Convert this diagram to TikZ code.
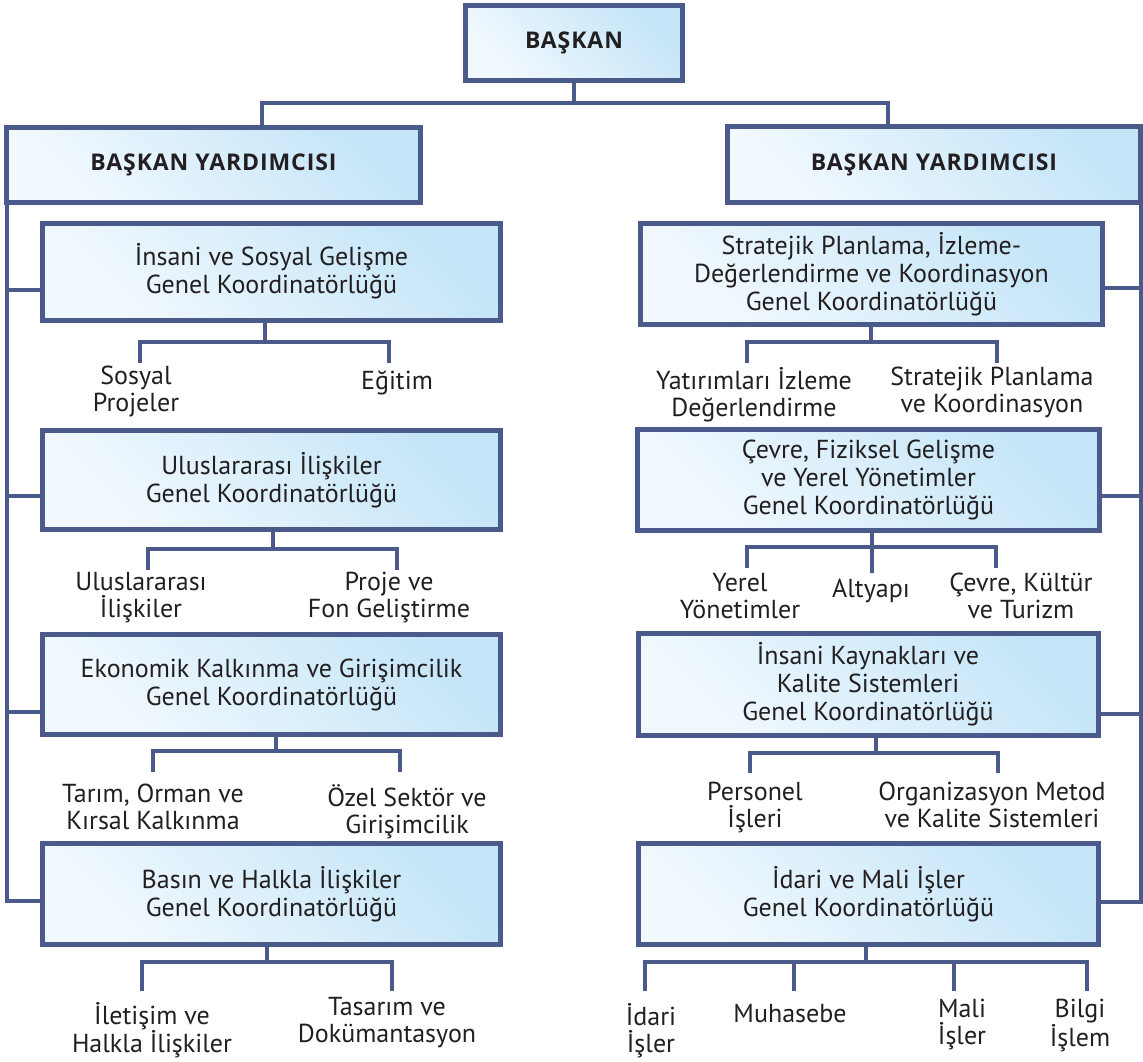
\documentclass[tikz,border=0pt]{standalone}
\usepackage{fontspec}
\setmainfont{PT Sans}
\newfontfamily\headfont[LetterSpace=4]{Open Sans}
\usetikzlibrary{positioning}
\definecolor{orgline}{RGB}{74,90,138}
\definecolor{boxlight}{RGB}{242,249,254}
\definecolor{boxdark}{RGB}{196,229,248}
\definecolor{orgtext}{RGB}{35,31,32}
\newcommand{\lineup}{\rule{0pt}{23pt}}
\tikzset{
  unit/.style={draw=orgline, line width=5pt, left color=boxlight, right color=boxdark,
    shading angle=135, align=center, text=orgtext, inner sep=0pt,
    font=\fontsize{26}{28}\selectfont},
  head/.style={unit, font=\headfont\fontsize{23}{26}\selectfont\bfseries},
  link/.style={draw=orgline, line width=4pt},
  sub/.style={align=center, text=orgtext, inner sep=0pt,
    font=\fontsize{26}{27}\selectfont, execute at begin node=\lineup},
}
\begin{document}
\begin{tikzpicture}[x=1pt,y=-1pt]
  \useasboundingbox (0,0) rectangle (1143,1061);

  % top level
  \node[head, minimum width=217pt, minimum height=75pt] (top) at (574,43) {BAŞKAN};
  \node[head, minimum width=414pt, minimum height=75pt] (vpl) at (213.5,165) {BAŞKAN YARDIMCISI};
  \node[head, minimum width=413pt, minimum height=76pt] (vpr) at (934,164.5) {BAŞKAN YARDIMCISI};

  \coordinate (tj) at (574,103);
  \draw[link] (top) -- (tj);
  \draw[link] (vpl.north -| 262,0) |- (tj) -| (vpr.north -| 888,0);

  % left units
  \node[unit, minimum width=458pt, minimum height=97pt] (l1) at (271.5,271.5)
    {İnsani ve Sosyal Gelişme\\Genel Koordinatörlüğü};
  \node[unit, minimum width=458pt, minimum height=99.5pt] (l2) at (271.5,480)
    {Uluslararası İlişkiler\\Genel Koordinatörlüğü};
  \node[unit, minimum width=458pt, minimum height=100pt] (l3) at (271.5,684.5)
    {Ekonomik Kalkınma ve Girişimcilik\\Genel Koordinatörlüğü};
  \node[unit, minimum width=458pt, minimum height=101pt] (l4) at (271.5,894)
    {Basın ve Halkla İlişkiler\\Genel Koordinatörlüğü};

  % right units
  \node[unit, minimum width=462pt, minimum height=101pt] (r1) at (871.5,274)
    {Stratejik Planlama, İzleme-\\Değerlendirme ve Koordinasyon\\Genel Koordinatörlüğü};
  \node[unit, minimum width=462pt, minimum height=101pt] (r2) at (868.5,480)
    {Çevre, Fiziksel Gelişme\\ve Yerel Yönetimler\\Genel Koordinatörlüğü};
  \node[unit, minimum width=460pt, minimum height=102pt] (r3) at (868,684)
    {İnsani Kaynakları ve\\Kalite Sistemleri\\Genel Koordinatörlüğü};
  \node[unit, minimum width=460pt, minimum height=101pt] (r4) at (868.5,894)
    {İdari ve Mali İşler\\Genel Koordinatörlüğü};

  % spines
  \coordinate (sl1) at (6.5,290);
  \coordinate (sl2) at (6.5,496);
  \coordinate (sl3) at (6.5,712);
  \coordinate (sl4) at (6.5,901);
  \draw[link] ([xshift=2.5pt]vpl.south west) -- (sl4) -- (sl4 -| l4.west);
  \draw[link] (sl1) -- (sl1 -| l1.west);
  \draw[link] (sl2) -- (sl2 -| l2.west);
  \draw[link] (sl3) -- (sl3 -| l3.west);

  \coordinate (sr1) at (1140.5,288);
  \coordinate (sr2) at (1140.5,496);
  \coordinate (sr3) at (1140.5,714);
  \coordinate (sr4) at (1140.5,902);
  \draw[link] ([xshift=-2.5pt]vpr.south east) -- (sr4) -- (sr4 -| r4.east);
  \draw[link] (sr1) -- (sr1 -| r1.east);
  \draw[link] (sr2) -- (sr2 -| r2.east);
  \draw[link] (sr3) -- (sr3 -| r3.east);

  % l1 offices
  \coordinate (b1) at (265,342);
  \coordinate (d1a) at (140,363);
  \coordinate (d1b) at (389,363);
  \node[sub, below=3pt of d1a, xshift=-4pt] (o1a) {Sosyal\\Projeler};
  \node[sub, below=3pt of d1b, xshift=8pt] (o1b) {Eğitim};
  \draw[link] (l1.south -| b1) -- (b1);
  \draw[link] (d1a) |- (b1) -| (d1b);

  % l2 offices
  \coordinate (b2) at (273,549);
  \coordinate (d2a) at (148,570);
  \coordinate (d2b) at (397,570);
  \node[sub, below=2pt of d2a, xshift=-7pt] (o2a) {Uluslararası\\İlişkiler};
  \node[sub, below=2pt of d2b, xshift=-8pt] (o2b) {Proje ve\\Fon Geliştirme};
  \draw[link] (l2.south -| b2) -- (b2);
  \draw[link] (d2a) |- (b2) -| (d2b);

  % l3 offices
  \coordinate (b3) at (276,751);
  \coordinate (d3a) at (153,772);
  \coordinate (d3b) at (400,772);
  \node[sub, below=12pt of d3a] (o3a) {Tarım, Orman ve\\Kırsal Kalkınma};
  \node[sub, below=12pt of d3b, xshift=7pt] (o3b) {Özel Sektör ve\\Girişimcilik};
  \draw[link] (l3.south -| b3) -- (b3);
  \draw[link] (d3a) |- (b3) -| (d3b);

  % l4 offices
  \coordinate (b4) at (267,962);
  \coordinate (d4a) at (142,991);
  \coordinate (d4b) at (392,991);
  \node[sub, below=11pt of d4a, xshift=10pt] (o4a) {İletişim ve\\Halkla İlişkiler};
  \node[sub, below=6pt of d4b, xshift=-5pt] (o4b) {Tasarım ve\\Dokümantasyon};
  \draw[link] (l4.south -| b4) -- (b4);
  \draw[link] (d4a) |- (b4) -| (d4b);

  % r1 offices
  \coordinate (c1) at (871,342);
  \coordinate (e1a) at (747,363);
  \coordinate (e1b) at (997,363);
  \node[sub, below=4pt of e1a, xshift=7pt] (p1a) {Yatırımları İzleme\\Değerlendirme};
  \node[sub, below=4pt of e1b, xshift=-5pt] (p1b) {Stratejik Planlama\\ve Koordinasyon};
  \draw[link] (r1.south -| c1) -- (c1);
  \draw[link] (e1a) |- (c1) -| (e1b);

  % r2 offices
  \coordinate (c2) at (872,547);
  \coordinate (e2a) at (747,568);
  \coordinate (e2b) at (872,573);
  \coordinate (e2c) at (996,568);
  \node[sub, below=5pt of e2a, xshift=-7pt] (p2a) {Yerel\\Yönetimler};
  \node[sub, below=1pt of e2b, xshift=-1pt] (p2b) {Altyapı};
  \node[sub, below=5pt of e2c, xshift=25pt] (p2c) {Çevre, Kültür\\ve Turizm};
  \draw[link] (r2.south -| c2) -- (e2b);
  \draw[link] (e2a) |- (c2) -| (e2c);

  % r3 offices
  \coordinate (c3) at (876,753);
  \coordinate (e3a) at (750,773);
  \coordinate (e3b) at (998,773);
  \node[sub, below=9pt of e3a, xshift=5pt] (p3a) {Personel\\İşleri};
  \node[sub, below=9pt of e3b, xshift=-6pt] (p3b) {Organizasyon Metod\\ve Kalite Sistemleri};
  \draw[link] (r3.south -| c3) -- (c3);
  \draw[link] (e3a) |- (c3) -| (e3b);

  % r4 offices
  \coordinate (c4) at (866,962);
  \coordinate (e4a) at (645,991);
  \coordinate (e4b) at (794,991);
  \coordinate (e4c) at (954,991);
  \coordinate (e4d) at (1087,991);
  \node[sub, below=12pt of e4a, xshift=6pt] (p4a) {İdari\\İşler};
  \node[sub, below=8pt of e4b, xshift=-4pt] (p4b) {Muhasebe};
  \node[sub, below=8pt of e4c, xshift=8pt] (p4c) {Mali\\İşler};
  \node[sub, below=8pt of e4d, xshift=-7pt] (p4d) {Bilgi\\İşlem};
  \draw[link] (r4.south -| c4) -- (c4);
  \draw[link] (e4a) |- (c4) -| (e4d);
  \draw[link] (e4b) -- (e4b |- c4);
  \draw[link] (e4c) -- (e4c |- c4);
\end{tikzpicture}
\end{document}
